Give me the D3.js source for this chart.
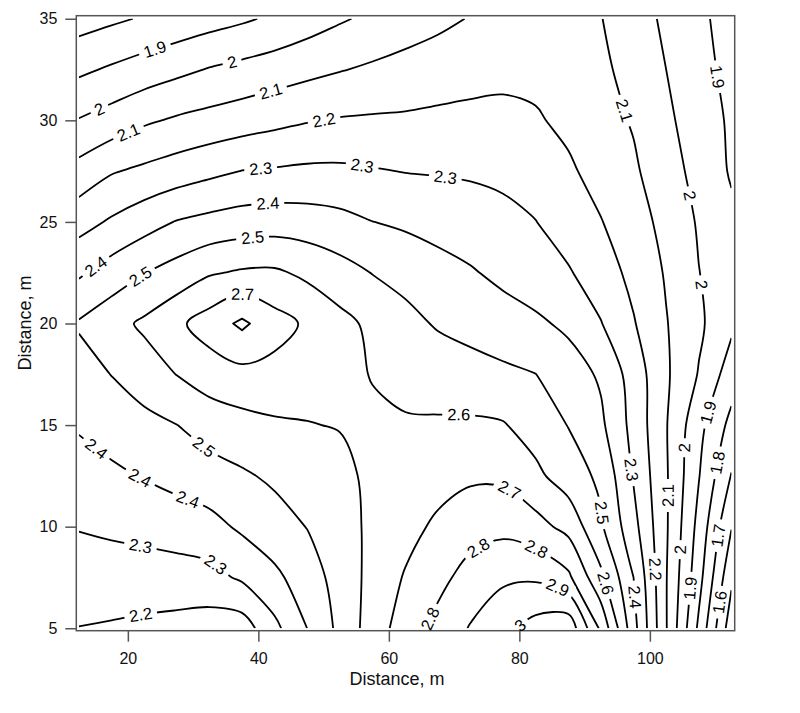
<!DOCTYPE html>
<html>
<head>
<meta charset="utf-8">
<script src="https://cdn.jsdelivr.net/npm/d3@7"></script>
<style>
  body { margin: 0; background: #fff; }
  svg { display: block; }
</style>
</head>
<body>
<svg id="chart" width="800" height="713"></svg>
<script>
// ---------------- DATA ----------------
// grid sample positions (m)
const xGrid = [12.5, 17.5, 22.5, 27.5, 32.5, 37.5, 42.5, 47.5, 52.5, 57.5, 62.5,
               67.5, 72.5, 77.5, 82.5, 87.5, 92.5, 97.5, 102.5, 107.5, 112.5];
const yGrid = [5, 7.5, 10, 12.5, 15, 17.5, 20, 22.5, 25, 27.5, 30, 32.5, 35];

// gridded values, one row per y
const z05  = [2.198, 2.19, 2.179, 2.168, 2.152, 2.15, 2.275, 2.401, 2.526, 2.647, 2.748, 2.831, 2.907, 2.971, 3.04, 3.07, 2.78, 2.436, 2.106, 1.78, 1.44];
const z075 = [2.253, 2.254, 2.255, 2.258, 2.267, 2.315, 2.378, 2.452, 2.539, 2.631, 2.708, 2.77, 2.839, 2.883, 2.886, 2.82, 2.622, 2.4, 2.105, 1.836, 1.52];
const z10  = [2.305, 2.317, 2.329, 2.346, 2.367, 2.417, 2.46, 2.503, 2.563, 2.619, 2.667, 2.718, 2.757, 2.773, 2.735, 2.67, 2.514, 2.333, 2.112, 1.869, 1.605];
const z125 = [2.358, 2.38, 2.406, 2.433, 2.46, 2.487, 2.517, 2.549, 2.57, 2.625, 2.644, 2.663, 2.685, 2.68, 2.623, 2.549, 2.48, 2.292, 2.111, 1.905, 1.695];
const z15  = [2.41, 2.444, 2.47, 2.499, 2.541, 2.566, 2.586, 2.596, 2.605, 2.615, 2.608, 2.611, 2.615, 2.607, 2.556, 2.497, 2.419, 2.268, 2.106, 1.931, 1.77];
const z175 = [2.46, 2.502, 2.552, 2.602, 2.648, 2.67, 2.668, 2.645, 2.625, 2.596, 2.577, 2.558, 2.539, 2.52, 2.501, 2.448, 2.386, 2.256, 2.114, 1.994, 1.85];
const z20  = [2.51, 2.563, 2.617, 2.679, 2.747, 2.82, 2.7385, 2.685, 2.63, 2.578, 2.53, 2.49, 2.466, 2.442, 2.418, 2.38, 2.304, 2.207, 2.105, 2.018, 1.92];
const z225 = [2.385, 2.445, 2.497, 2.54, 2.59, 2.612, 2.615, 2.58, 2.538, 2.497, 2.468, 2.439, 2.409, 2.377, 2.343, 2.309, 2.248, 2.173, 2.091, 2.002, 1.945];
const z25  = [2.262, 2.313, 2.36, 2.405, 2.428, 2.445, 2.453, 2.446, 2.429, 2.401, 2.384, 2.362, 2.347, 2.33, 2.302, 2.253, 2.204, 2.142, 2.071, 1.99, 1.92];
const z275 = [2.135, 2.192, 2.22, 2.248, 2.276, 2.302, 2.31, 2.318, 2.318, 2.307, 2.297, 2.293, 2.288, 2.276, 2.254, 2.215, 2.164, 2.114, 2.044, 1.967, 1.89];
const z30  = [2.005, 2.043, 2.085, 2.113, 2.133, 2.153, 2.174, 2.194, 2.207, 2.212, 2.214, 2.221, 2.225, 2.226, 2.21, 2.178, 2.135, 2.092, 2.019, 1.951, 1.885];
const z325 = [1.881, 1.913, 1.945, 1.976, 2.006, 2.028, 2.05, 2.073, 2.095, 2.115, 2.135, 2.15, 2.165, 2.175, 2.175, 2.155, 2.12, 2.065, 2.0, 1.935, 1.87];
const z35  = [1.757, 1.783, 1.809, 1.834, 1.861, 1.886, 1.916, 1.953, 1.989, 2.02, 2.048, 2.077, 2.105, 2.125, 2.135, 2.125, 2.103, 2.045, 1.982, 1.921, 1.86];
const zRows = [z05, z075, z10, z125, z15, z175, z20, z225, z25, z275, z30, z325, z35];

// contour levels
const levels = [1.5, 1.6, 1.7, 1.8, 1.9, 2.0, 2.1, 2.2, 2.3, 2.4, 2.5, 2.6, 2.7, 2.8, 2.9, 3.0];

// contour label anchors (level, x, y) in data units
const labelLevel = [1.9, 2, 2, 2.1, 2.1, 2.2, 2.3, 2.3, 2.3, 2.4, 2.5, 2.4, 2.5, 2.7, 2.6,
                    2.5, 2.4, 2.4, 2.4, 2.3, 2.3, 2.2, 2.7, 2.8, 2.8, 2.8, 2.9, 3, 2.5, 2.6,
                    2.4, 2.3, 2.2, 2.1, 2, 2, 1.9, 1.9, 1.8, 1.7, 1.6, 2.1, 2, 1.9, 2];
const labelX = [24.16, 35.96, 15.43, 41.79, 20.02, 49.91, 40.25, 55.89, 68.6, 41.48, 39.03, 15.27, 21.86, 37.49, 70.6,
                31.52, 15.27, 21.86, 29.07, 21.86, 33.05, 21.86, 78.26, 73.66, 82.4, 65.54, 85.46, 80.1, 92.05, 93.59,
                97.72, 97.26, 101.1, 102.78, 105.39, 104.62, 108.76, 105.85, 110.29, 110.44, 110.44, 95.7, 105.85, 110.0, 108.0];
const labelY = [33.56, 32.97, 30.66, 31.54, 29.43, 30.11, 27.7, 27.7, 27.11, 25.93, 24.21, 22.73, 22.29, 21.26, 15.5,
                13.87, 13.87, 12.45, 11.21, 8.95, 7.97, 5.7, 11.71, 8.95, 8.7, 5.6, 6.74, 5.16, 10.67, 7.28,
                6.54, 12.79, 7.87, 11.56, 13.87, 8.85, 15.6, 6.98, 13.13, 9.59, 6.29, 30.41, 26.28, 32.13, 21.9];

const xTicks = [20, 40, 60, 80, 100];
const yTicks = [5, 10, 15, 20, 25, 30, 35];
const xTitle = "Distance, m";
const yTitle = "Distance, m";

// ---------------- CHART ----------------
const W = 800, H = 713;
const FONT = "'Liberation Sans', Arial, Helvetica, sans-serif";
const svg = d3.select("#chart");

const sx = d3.scaleLinear().domain([12.1, 113.0]).range([76.3, 734.7]);
const sy = d3.scaleLinear().domain([4.88, 35.15]).range([630.7, 15.7]);

const nx = xGrid.length, ny = yGrid.length;
const dxg = xGrid[1] - xGrid[0], dyg = yGrid[1] - yGrid[0];
const flat = zRows.flat();
const contours = d3.contours().size([nx, ny]).thresholds(levels)(flat);
const toData = p => [xGrid[0] + (p[0] - 0.5) * dxg, yGrid[0] + (p[1] - 0.5) * dyg];
const inside = p => p[0] > 0 && p[0] < nx && p[1] > 0 && p[1] < ny;

// split the contour rings into open lines (drop grid-border pieces)
const lines = [];
contours.forEach(c => {
  c.coordinates.forEach(poly => poly.forEach(ring => {
    const pts = ring.slice(0, -1);
    const n = pts.length;
    const start = pts.findIndex(p => !inside(p));
    if (start < 0) { lines.push({ v: c.value, closed: true, pts: pts.map(toData) }); return; }
    let cur = [];
    for (let k = 1; k <= n; k++) {
      const p = pts[(start + k) % n];
      if (inside(p)) cur.push(p);
      else {
        if (cur.length >= 2) lines.push({ v: c.value, closed: false, pts: cur.map(toData) });
        cur = [];
      }
    }
    if (cur.length >= 2) lines.push({ v: c.value, closed: false, pts: cur.map(toData) });
  }));
});

const defs = svg.append("defs");
defs.append("clipPath").attr("id", "dataClip").append("rect")
  .attr("x", sx(xGrid[0])).attr("y", sy(yGrid[ny - 1]))
  .attr("width", sx(xGrid[nx - 1]) - sx(xGrid[0]))
  .attr("height", sy(yGrid[0]) - sy(yGrid[ny - 1]));
const mask = defs.append("mask").attr("id", "labelMask")
  .attr("maskUnits", "userSpaceOnUse").attr("x", 0).attr("y", 0).attr("width", W).attr("height", H);
mask.append("rect").attr("x", 0).attr("y", 0).attr("width", W).attr("height", H).attr("fill", "white");

const gClip = svg.append("g").attr("clip-path", "url(#dataClip)");
const gLines = gClip.append("g").attr("mask", "url(#labelMask)");

const openGen = d3.line().x(d => sx(d[0])).y(d => sy(d[1])).curve(d3.curveCatmullRom.alpha(0.5));
const loopGen = d3.line().x(d => sx(d[0])).y(d => sy(d[1])).curve(d3.curveCatmullRomClosed.alpha(0.5));
const loopLin = d3.line().x(d => sx(d[0])).y(d => sy(d[1])).curve(d3.curveLinearClosed);

const pathNodes = lines.map(L => {
  const d = L.closed ? (L.pts.length <= 4 ? loopLin(L.pts) : loopGen(L.pts)) : openGen(L.pts);
  const p = gLines.append("path").attr("d", d)
    .attr("fill", "none").attr("stroke", "#000").attr("stroke-width", 1.8)
    .attr("stroke-linejoin", "round").attr("stroke-linecap", "butt");
  return { v: L.v, node: p.node() };
});

// frame
const x0 = sx.range()[0], x1 = sx.range()[1], y0 = sy.range()[0], y1 = sy.range()[1];
svg.append("rect").attr("x", x0).attr("y", y1).attr("width", x1 - x0).attr("height", y0 - y1)
  .attr("fill", "none").attr("stroke", "#555").attr("stroke-width", 1.5);

// axes
const yAxis = d3.axisLeft(sy).tickValues(yTicks).tickSize(11).tickPadding(8).tickFormat(d3.format("d"));
svg.append("g").attr("transform", `translate(${x0},0)`).call(yAxis)
  .attr("font-family", FONT).attr("font-size", 16)
  .call(g => g.select(".domain").remove())
  .call(g => g.selectAll(".tick line").attr("stroke", "#555").attr("stroke-width", 1.5))
  .call(g => g.selectAll(".tick text").attr("fill", "#111"));
const xAxis = d3.axisBottom(sx).tickValues(xTicks).tickSize(11).tickPadding(11).tickFormat(d3.format("d"));
svg.append("g").attr("transform", `translate(0,${y0})`).call(xAxis)
  .attr("font-family", FONT).attr("font-size", 16)
  .call(g => g.select(".domain").remove())
  .call(g => g.selectAll(".tick line").attr("stroke", "#555").attr("stroke-width", 1.5))
  .call(g => g.selectAll(".tick text").attr("fill", "#111"));

svg.append("text").attr("x", 397).attr("y", 685).attr("text-anchor", "middle")
  .attr("font-family", FONT).attr("font-size", 18).attr("fill", "#111").text(xTitle);
svg.append("text").attr("transform", "translate(30.5,323) rotate(-90)").attr("text-anchor", "middle")
  .attr("font-family", FONT).attr("font-size", 18).attr("fill", "#111").text(yTitle);

// contour labels
const gLab = svg.append("g").attr("font-family", FONT).attr("font-size", 16.5).attr("fill", "#000");
labelLevel.forEach((v, i) => {
  const tx = sx(labelX[i]), ty = sy(labelY[i]);
  let best = null;
  pathNodes.filter(p => Math.abs(p.v - v) < 1e-9).forEach(p => {
    const len = p.node.getTotalLength();
    for (let s = 0; s <= len; s += 1.5) {
      const q = p.node.getPointAtLength(s);
      const d = (q.x - tx) ** 2 + (q.y - ty) ** 2;
      if (!best || d < best.d) best = { d, s, len, node: p.node, q };
    }
  });
  if (!best) return;
  const a = best.node.getPointAtLength(Math.max(0, best.s - 9));
  const b = best.node.getPointAtLength(Math.min(best.len, best.s + 9));
  let ang = Math.atan2(b.y - a.y, b.x - a.x) * 180 / Math.PI;
  if (ang > 90) ang -= 180;
  if (ang <= -90) ang += 180;
  const tr = `translate(${best.q.x.toFixed(2)},${best.q.y.toFixed(2)}) rotate(${ang.toFixed(2)})`;
  const t = gLab.append("text").attr("transform", tr).attr("text-anchor", "middle")
    .attr("dy", "0.35em").text(String(v));
  const w = t.node().getComputedTextLength() + 10;
  mask.append("rect").attr("x", -w / 2).attr("y", -8).attr("width", w).attr("height", 16)
    .attr("fill", "black").attr("transform", tr);
});
</script>
</body>
</html>
